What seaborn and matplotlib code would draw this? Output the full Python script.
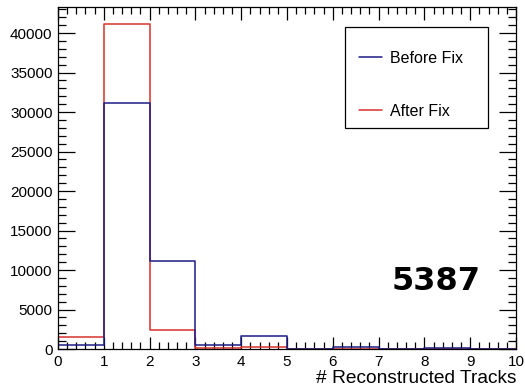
import matplotlib
matplotlib.use("Agg")
import matplotlib.pyplot as plt
from matplotlib.patches import Rectangle
from matplotlib.ticker import MultipleLocator
import numpy as np
import pandas as pd
import seaborn as sns

# Track multiplicity per event, one entry per unit-wide bin 0..10
bin_edges = list(range(11))
before_fix = [500, 31100, 11150, 450, 1600, 0, 250, 0, 100, 0]
after_fix = [1500, 41200, 2450, 150, 250, 0, 50, 0, 50, 0]
series_labels = ["Before Fix", "After Fix"]
series_colors = {"Before Fix": "#1c1c86", "After Fix": "#d8332c"}
run_number = "5387"
x_title = "# Reconstructed Tracks"

sns.set_theme(style="ticks")
plt.rcParams["font.family"] = ["Liberation Sans", "DejaVu Sans"]
plt.rcParams["text.color"] = "black"
plt.rcParams["axes.labelcolor"] = "black"

centres = [(a + b) / 2 for a, b in zip(bin_edges[:-1], bin_edges[1:])]
df = pd.DataFrame({
    "tracks": centres * 2,
    "events": before_fix + after_fix,
    "sample": ["Before Fix"] * len(centres) + ["After Fix"] * len(centres),
})

fig = plt.figure(figsize=(5.25, 3.91), dpi=100)
ax = fig.add_axes([0.1105, 0.1074, 0.8724, 0.8747])

for name in ["After Fix", "Before Fix"]:
    sub = df[df["sample"] == name]
    sns.histplot(data=sub, x="tracks", weights="events", bins=bin_edges,
                 element="step", fill=False, color=series_colors[name],
                 linewidth=1.1, label=name, ax=ax)

ax.set_xlim(0, 10)
ax.set_ylim(0, 43300)
ax.xaxis.set_major_locator(MultipleLocator(1))
ax.xaxis.set_minor_locator(MultipleLocator(0.2))
ax.yaxis.set_major_locator(MultipleLocator(5000))
ax.yaxis.set_minor_locator(MultipleLocator(1000))

ax.tick_params(axis="both", which="both", direction="in", top=True, right=True,
               colors="black", labelsize=11, width=0.9)
ax.tick_params(axis="x", which="major", length=9, pad=4)
ax.tick_params(axis="x", which="minor", length=5)
ax.tick_params(axis="y", which="major", length=12, pad=4)
ax.tick_params(axis="y", which="minor", length=6)
for s in ax.spines.values():
    s.set_linewidth(0.9)
    s.set_color("black")

ax.set_ylabel("")
ax.set_xlabel(x_title, loc="right", fontsize=13.8, labelpad=1, color="black")

# Legend box
ax.add_patch(Rectangle((0.627, 0.646), 0.312, 0.296, transform=ax.transAxes,
                       fill=False, edgecolor="black", linewidth=0.9, zorder=5))
handles, labels = ax.get_legend_handles_labels()
order = [labels.index(l) for l in series_labels]
ax.legend([handles[i] for i in order], [labels[i] for i in order],
          loc="upper left", bbox_to_anchor=(0.633, 0.904), frameon=False,
          fontsize=11.5, handlelength=1.45, handletextpad=0.5,
          labelspacing=2.35, borderpad=0.2, labelcolor="black")

ax.text(0.826, 0.197, run_number, transform=ax.transAxes, ha="center",
        va="center", fontsize=23, fontweight="bold", color="black",
        family=["DejaVu Sans"])

fig.savefig("out.png", dpi=100)
